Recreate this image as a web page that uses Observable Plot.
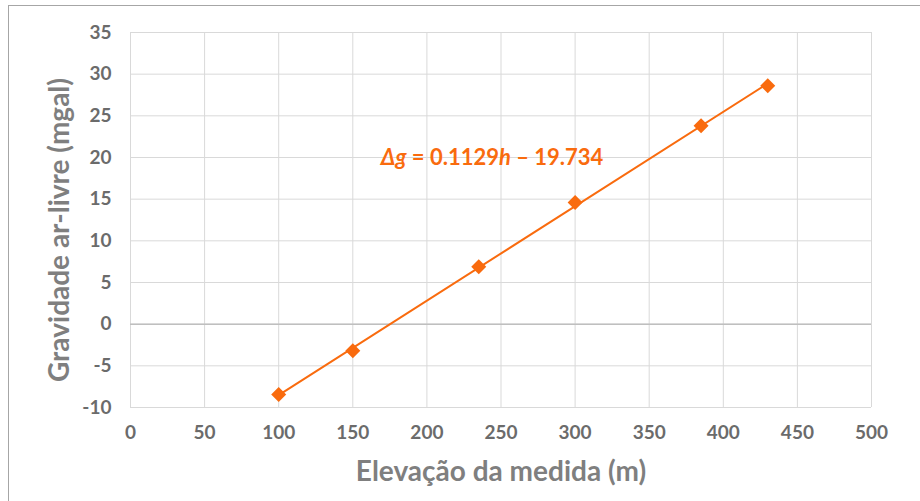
<!DOCTYPE html>
<html>
<head>
<meta charset="utf-8">
<script src="https://cdn.jsdelivr.net/npm/d3@7"></script>
<script src="https://cdn.jsdelivr.net/npm/@observablehq/plot@0.6"></script>
<style>
  html, body { margin: 0; padding: 0; background: #fff; }
  #wrap { position: relative; width: 920px; height: 501px; overflow: hidden; }
  #frame { position: absolute; left: 8px; top: 5px; width: 930px; height: 520px; border: 1px solid #a6a6a6; box-sizing: border-box; }
  #chart { position: absolute; left: 0; top: 0; }
</style>
</head>
<body>
<div id="wrap"><div id="frame"></div><div id="chart"></div></div>
<script>
const elevation = [100, 150, 235, 300, 385, 430];
const gravity = [-8.45, -3.2, 6.9, 14.6, 23.8, 28.6];
const xTicks = [0, 50, 100, 150, 200, 250, 300, 350, 400, 450, 500];
const yTicks = [-10, -5, 0, 5, 10, 15, 20, 25, 30, 35];
const xTitle = "Elevação da medida (m)";
const yTitle = "Gravidade ar-livre (mgal)";
const equationParts = [["Δg", true], [" = 0.1129", false], ["h", true], [" – 19.734", false]];
const equationAnchor = {x: 244, y: 20};

const data = elevation.map((h, i) => ({h, g: gravity[i]}));
const orange = "#f96b0e";
const gray = "#7f7f7f";
const tickGray = "#6b6b6b";
const font = "Lato, 'Open Sans', sans-serif";

// square diamond (rotated square), like the spreadsheet marker
const squareDiamond = {
  draw(context, size) {
    const r = Math.sqrt(size / Math.PI);
    context.moveTo(0, -r);
    context.lineTo(r, 0);
    context.lineTo(0, r);
    context.lineTo(-r, 0);
    context.closePath();
  }
};

const chart = Plot.plot({
  width: 920,
  height: 501,
  marginLeft: 130,
  marginRight: 49,
  marginTop: 32,
  marginBottom: 94,
  style: {fontFamily: font, background: "transparent"},
  x: {domain: [0, 500], ticks: xTicks},
  y: {domain: [-10, 35], ticks: yTicks},
  marks: [
    Plot.gridX(xTicks, {stroke: "#d9d9d9", strokeOpacity: 1, strokeWidth: 1}),
    Plot.gridY(yTicks, {stroke: "#d9d9d9", strokeOpacity: 1, strokeWidth: 1}),
    Plot.ruleY([0], {stroke: "#bfbfbf", strokeWidth: 1.5}),
    Plot.axisX(xTicks, {tickSize: 0, tickPadding: 18, fontSize: 19, fontWeight: "bold", color: tickGray, label: null, tickFormat: d => String(d)}),
    Plot.axisY(yTicks, {tickSize: 0, tickPadding: 19, fontSize: 19, fontWeight: "bold", color: tickGray, label: null, tickFormat: d => String(d)}),
    Plot.linearRegressionY(data, {x: "h", y: "g", stroke: orange, strokeWidth: 2, ci: 0}),
    Plot.dot(data, {x: "h", y: "g", symbol: squareDiamond, r: 7.5, fill: orange, stroke: "none"}),
    Plot.text([xTitle], {frameAnchor: "bottom", dy: 73, fontSize: 28, fontWeight: "bold", fill: gray, text: d => d}),
    Plot.text([yTitle], {frameAnchor: "left", textAnchor: "middle", dx: -70, dy: 10, rotate: -90, fontSize: 28, fontWeight: "bold", fill: gray, text: d => d}),
    Plot.text([equationAnchor], {x: "x", y: "y", text: () => "eq", fontSize: 22, fontWeight: "bold", fill: orange, className: "equation"})
  ]
});

document.getElementById("chart").appendChild(chart);

// rich text for the equation (italic Δg and h)
d3.select(chart).selectAll(".equation text").each(function() {
  const t = d3.select(this);
  t.text(null);
  equationParts.forEach(([s, it]) => {
    t.append("tspan").text(s).attr("font-style", it ? "italic" : null);
  });
});
</script>
</body>
</html>
